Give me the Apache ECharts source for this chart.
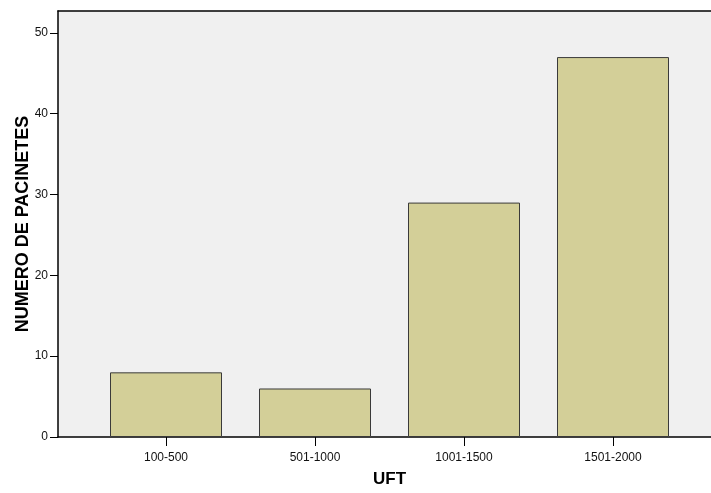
<!DOCTYPE html>
<html>
<head>
<meta charset="utf-8">
<script src="https://cdn.jsdelivr.net/npm/echarts@6/dist/echarts.min.js"></script>
<style>html,body{margin:0;padding:0;background:#fff;}#c{width:711px;height:493px;}</style>
</head>
<body>
<div id="c"></div>
<script>
var categories = ['100-500', '501-1000', '1001-1500', '1501-2000'];
var values = [8, 6, 29, 47];
var yTicks = [0, 10, 20, 30, 40, 50];
var xTitle = 'UFT';
var yTitle = 'NUMERO DE PACINETES';

var chart = echarts.init(document.getElementById('c'), null, {renderer: 'canvas'});
var font = 'Arial, "Liberation Sans", sans-serif';
var yMax = 52.7;
chart.setOption({
  animation: false,
  backgroundColor: '#ffffff',
  grid: [
    {left: 58, right: -2, top: 11, bottom: 56, show: true, backgroundColor: '#f0f0f0', borderWidth: 0},
    {left: 91.5, right: 23.5, top: 11, bottom: 56}
  ],
  xAxis: [
    {gridIndex: 0, type: 'value', min: 0, max: 1, position: 'bottom',
     axisLine: {show: true, onZero: false, lineStyle: {color: '#000', width: 1.5}},
     axisTick: {show: false}, axisLabel: {show: false}, splitLine: {show: false}},
    {gridIndex: 0, type: 'value', min: 0, max: 1, position: 'top',
     axisLine: {show: true, onZero: false, lineStyle: {color: '#000', width: 1.5}},
     axisTick: {show: false}, axisLabel: {show: false}, splitLine: {show: false}},
    {gridIndex: 1, type: 'category', data: categories, position: 'bottom',
     axisLine: {show: false, onZero: false},
     axisTick: {show: true, alignWithLabel: true, length: 9, lineStyle: {color: '#000', width: 1}},
     axisLabel: {color: '#111', fontSize: 12, fontFamily: font, margin: 15},
     name: xTitle, nameLocation: 'middle', nameGap: 34, nameMoveOverlap: false,
     nameTextStyle: {color: '#000', fontSize: 17, fontWeight: 'bold', fontFamily: font}}
  ],
  yAxis: [
    {gridIndex: 0, type: 'value', min: 0, max: yMax,
     axisLine: {show: true, onZero: false, lineStyle: {color: '#000', width: 1.5}},
     axisLabel: {color: '#111', fontSize: 12, fontFamily: font, margin: 10,
       customValues: yTicks},
     axisTick: {show: true, length: 8, lineStyle: {color: '#000', width: 1}, customValues: yTicks},
     splitLine: {show: false},
     name: yTitle, nameLocation: 'middle', nameGap: 26, nameMoveOverlap: false,
     nameTextStyle: {color: '#000', fontSize: 18, fontWeight: 'bold', fontFamily: font}},
    {gridIndex: 1, type: 'value', min: 0, max: yMax, show: false}
  ],
  series: [{
    type: 'bar', xAxisIndex: 2, yAxisIndex: 1, data: values, barWidth: 112,
    itemStyle: {color: '#d3cf98', borderColor: '#3a3a3a', borderWidth: 1}
  }]
});
</script>
</body>
</html>
